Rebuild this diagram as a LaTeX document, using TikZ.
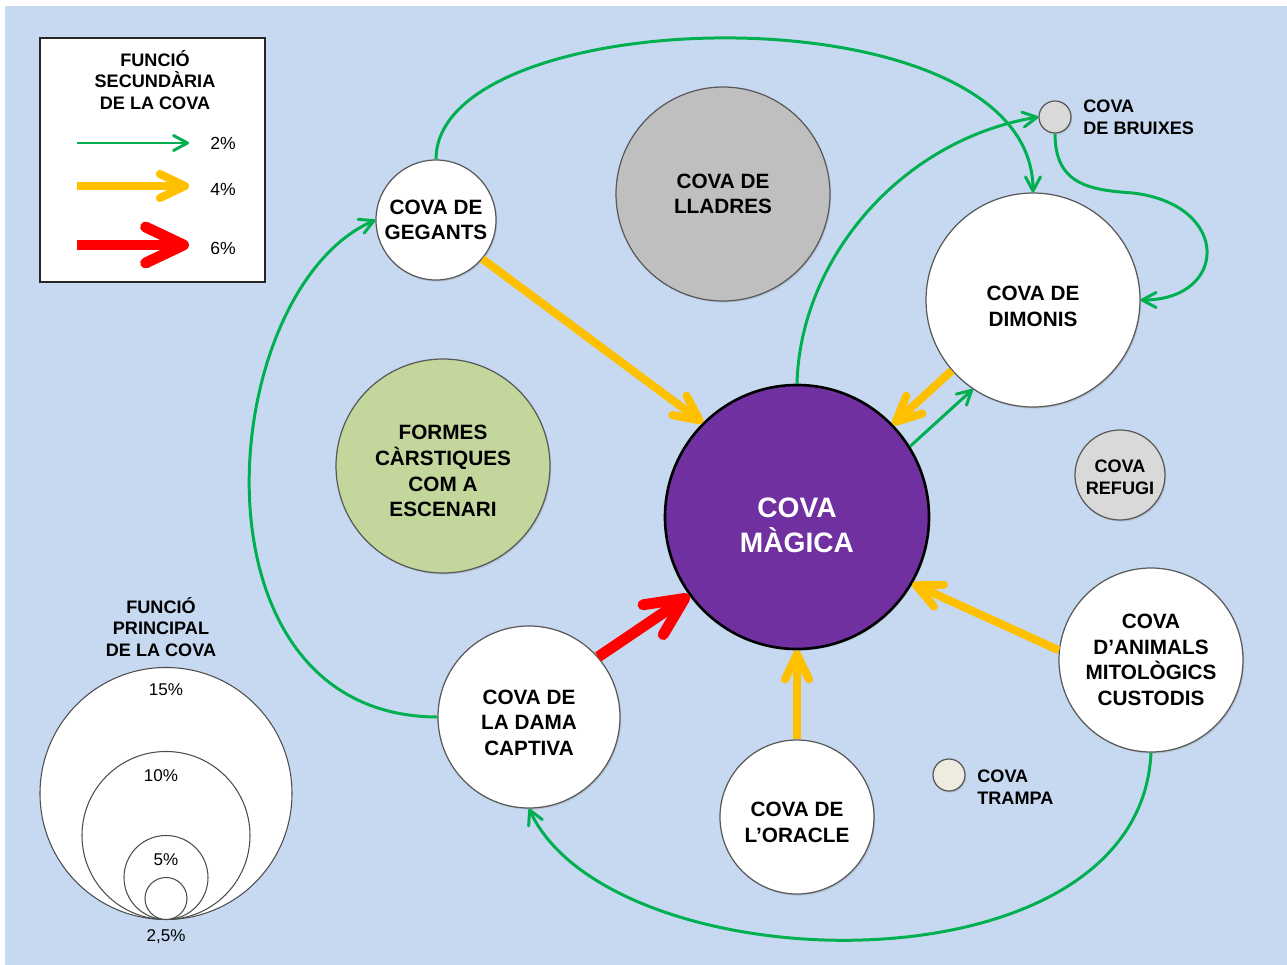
\documentclass[tikz,border=0pt]{standalone}
\usepackage{fontspec}
\setmainfont{Liberation Sans}
\usetikzlibrary{arrows.meta,shadows}
\definecolor{bgblue}{HTML}{C6D9F1}
\definecolor{magicpurple}{HTML}{7030A0}
\definecolor{karstgreen}{HTML}{C3D69B}
\definecolor{thiefgray}{HTML}{BFBFBF}
\definecolor{lightgray}{HTML}{D9D9D9}
\definecolor{trapcream}{HTML}{EEECE1}
\definecolor{arrgreen}{HTML}{00B050}
\definecolor{arryellow}{HTML}{FFC000}
\definecolor{arrred}{HTML}{FF0000}
\newcommand{\sink}[1]{\rule{0pt}{#1}}
\tikzset{
  cave/.style={circle,draw=black!65,line width=0.7pt,inner sep=0pt,minimum size=#1*0.2mm,
    align=center,font=\bfseries\fontsize{11.8}{14.6}\selectfont,
    drop shadow={opacity=0.25,shadow xshift=0.7pt,shadow yshift=-0.9pt}},
  ring/.style={circle,draw=black!70,line width=0.6pt,fill=white,inner sep=0pt,minimum size=#1*0.2mm,anchor=south},
  smalltext/.style={font=\bfseries\fontsize{10.3}{12.4}\selectfont,inner sep=0pt},
  pct/.style={font=\fontsize{10}{12}\selectfont,inner sep=0pt},
  sec2/.style={draw=arrgreen,line width=1.7pt,-{Straight Barb[length=2.8mm,width=3mm,round]}},
  sec4/.style={draw=arryellow,line width=4.6pt,-{Straight Barb[length=5mm,width=4.8mm,round]}},
  sec6/.style={draw=arrred,line width=6.2pt,-{Straight Barb[length=7.6mm,width=7.2mm,round]}}
}
\begin{document}
\begin{tikzpicture}[x=0.2mm,y=-0.2mm]
\useasboundingbox (0,0) rectangle (1287,965);
\fill[white] (0,0) rectangle (1287,965);
\fill[bgblue] (5,6) rectangle (1287,965);

\node[cave=120,fill=white] (gegants) at (436,220) {COVA DE\\GEGANTS};
\node[cave=214,fill=thiefgray] (lladres) at (723,194) {COVA DE\\LLADRES};
\node[cave=214,fill=white] (dimonis) at (1033,300) {\sink{15.2pt}COVA DE\\DIMONIS};
\node[cave=32,fill=lightgray] (bruixes) at (1055,117) {};
\node[cave=264,fill=magicpurple,draw=black,line width=1.5pt,text=white,
  font=\bfseries\fontsize{16}{20}\selectfont] (magica) at (797,517) {\sink{20.5pt}COVA\\MÀGICA};
\node[cave=214,fill=karstgreen] (formes) at (443,466) {\sink{14.2pt}FORMES\\CÀRSTIQUES\\COM A\\ESCENARI};
\node[cave=90,fill=lightgray,font=\bfseries\fontsize{10.3}{12.4}\selectfont] (refugi) at (1120,475) {\sink{10pt}COVA\\REFUGI};
\node[cave=184,fill=white] (animals) at (1151,660) {COVA\\D’ANIMALS\\MITOLÒGICS\\CUSTODIS};
\node[cave=32,fill=trapcream] (trampa) at (949,775) {};
\node[cave=154,fill=white] (oracle) at (797,817) {\sink{14.2pt}COVA DE\\L’ORACLE};
\node[cave=182,fill=white] (dama) at (529,717) {\sink{14.8pt}COVA DE\\LA DAMA\\CAPTIVA};

\node[smalltext,anchor=west,align=left] (bruixeslbl) at (1083,117) {COVA\\DE BRUIXES};
\node[smalltext,anchor=west,align=left] (trampalbl) at (977,787) {COVA\\TRAMPA};

\draw[sec2] (gegants.north) .. controls (436,0) and (1033,-15) .. (dimonis.north);
\draw[sec2] (dama.west) .. controls (180,716) and (215,290) .. (gegants.west);
\draw[sec2] (animals.south) .. controls (1140,1000) and (610,985) .. (dama.south);
\draw[sec2] (magica.north) .. controls (800,260) and (900,140) .. (bruixes.west);
\draw[sec2] (bruixes.south) .. controls (1055,185) and (1090,190) .. (1133,193)
  .. controls (1232,205) and (1228,300) .. (dimonis.east);
\draw[sec2] (magica.32) -- (dimonis.236);
\draw[sec4] (gegants.-40) -- (magica.135);
\draw[sec4] (dimonis.221) -- (magica.44);
\draw[sec4] (oracle.north) -- (magica.south);
\draw[sec4] (animals.174) -- (magica.-30);
\draw[sec6] (dama.41) -- (magica.216);

\node[draw=black!85,line width=1.2pt,fill=white,inner sep=0pt,minimum width=225*0.2mm,
  minimum height=244*0.2mm] (legend) at (152.5,160) {};
\node[smalltext,align=center] (legendtitle) at (155,80) {FUNCIÓ\\SECUNDÀRIA\\DE LA COVA};
\coordinate (g1) at (77,143); \coordinate (g2) at (189,143);
\coordinate (y1) at (77,186); \coordinate (y2) at (189,186);
\coordinate (r1) at (77,245); \coordinate (r2) at (189,245);
\draw[sec2] (g1) -- (g2);
\draw[sec4] (y1) -- (y2);
\draw[sec6] (r1) -- (r2);
\node[pct] (p2) at (223,143) {2\%};
\node[pct] (p4) at (223,189) {4\%};
\node[pct] (p6) at (223,248) {6\%};

\node[smalltext,align=center] (maintitle) at (161,627) {FUNCIÓ\\PRINCIPAL\\DE LA COVA};
\node[ring=252] (ring15) at (166,920) {};
\node[ring=168] (ring10) at (166,920) {};
\node[ring=84] (ring5) at (166,920) {};
\node[ring=42] (ring2) at (166,920) {};
\node[pct,font=\fontsize{9.7}{12}\selectfont] (l15) at (166,690) {15\%};
\node[pct,font=\fontsize{9.7}{12}\selectfont] (l10) at (161,776) {10\%};
\node[pct,font=\fontsize{9.7}{12}\selectfont] (l5) at (166,860) {5\%};
\node[pct,font=\fontsize{9.7}{12}\selectfont] (l2) at (166,937) {2,5\%};
\end{tikzpicture}
\end{document}
